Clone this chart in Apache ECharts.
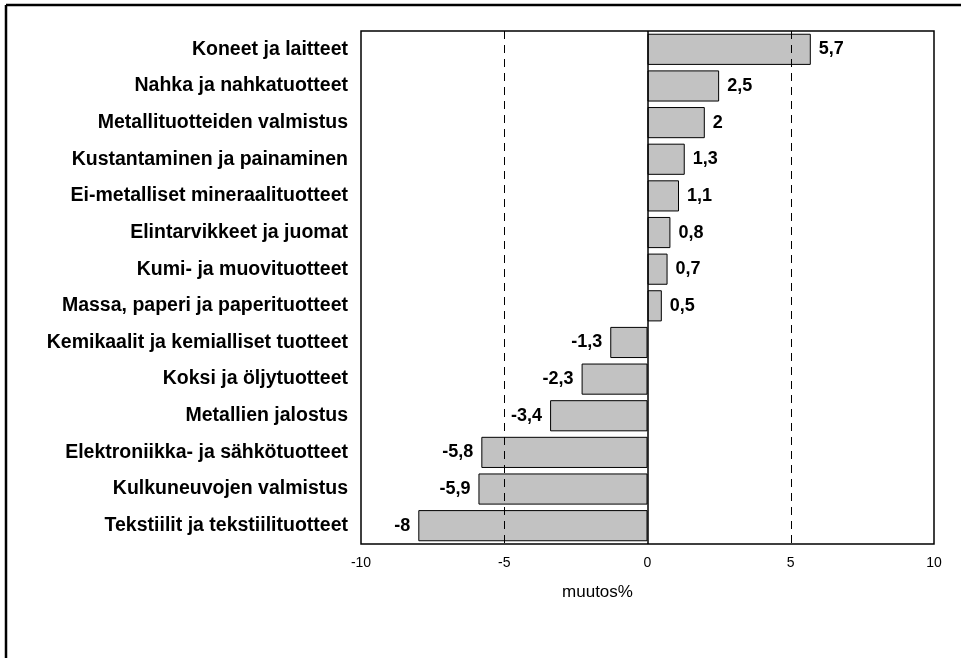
<!DOCTYPE html>
<html>
<head>
<meta charset="utf-8">
<script src="https://cdn.jsdelivr.net/npm/echarts@6/dist/echarts.min.js"></script>
<style>
html,body{margin:0;padding:0;background:#fff;}
#chart{width:961px;height:658px;}
</style>
</head>
<body>
<div id="chart"></div>
<script>
const categories = [
  'Koneet ja laitteet',
  'Nahka ja nahkatuotteet',
  'Metallituotteiden valmistus',
  'Kustantaminen ja painaminen',
  'Ei-metalliset mineraalituotteet',
  'Elintarvikkeet ja juomat',
  'Kumi- ja muovituotteet',
  'Massa, paperi ja paperituotteet',
  'Kemikaalit ja kemialliset tuotteet',
  'Koksi ja öljytuotteet',
  'Metallien jalostus',
  'Elektroniikka- ja sähkötuotteet',
  'Kulkuneuvojen valmistus',
  'Tekstiilit ja tekstiilituotteet'
];
const values = [5.7, 2.5, 2, 1.3, 1.1, 0.8, 0.7, 0.5, -1.3, -2.3, -3.4, -5.8, -5.9, -8];
const xTicks = [-10, -5, 0, 5, 10];
const axisName = 'muutos%';

const chart = echarts.init(document.getElementById('chart'));
const fmt = v => String(v).replace('.', ',');

chart.setOption({
  animation: false,
  backgroundColor: '#fff',
  textStyle: { fontFamily: 'Liberation Sans, Arial, sans-serif' },
  grid: {
    left: 361, top: 31, right: 27, bottom: 114,
    show: true, borderColor: '#000', borderWidth: 1.5, backgroundColor: 'transparent',
    containLabel: false
  },
  xAxis: {
    type: 'value',
    min: xTicks[0], max: xTicks[xTicks.length - 1], interval: 5,
    axisLine: { show: false },
    axisTick: { show: false },
    splitLine: { show: false },
    axisLabel: {
      color: '#000', fontSize: 14, margin: 12,
      formatter: v => xTicks.includes(v) ? String(v) : ''
    },
    name: axisName,
    nameLocation: 'middle',
    nameGap: 40,
    nameTextStyle: { color: '#000', fontSize: 17, padding: [0, 100, 0, 0] }
  },
  yAxis: {
    type: 'category',
    data: categories,
    inverse: true,
    axisLine: { show: false },
    axisTick: { show: false },
    splitLine: { show: false },
    axisLabel: { color: '#000', fontSize: 19.5, fontWeight: 'bold', margin: 13 }
  },
  series: [{
    type: 'bar',
    data: values.map(v => ({
      value: v,
      label: { position: v >= 0 ? 'right' : 'left' }
    })),
    barCategoryGap: '15%',
    itemStyle: { color: '#c2c2c2', borderColor: '#000', borderWidth: 1 },
    label: {
      show: true, color: '#000', fontSize: 18, fontWeight: 'bold', distance: 8,
      formatter: p => fmt(p.value)
    },
    markLine: {
      silent: true, symbol: 'none', label: { show: false },
      data: [
        { xAxis: -5, lineStyle: { type: [8, 6], color: '#000', width: 1 } },
        { xAxis: 5, lineStyle: { type: [8, 6], color: '#000', width: 1 } },
        { xAxis: 0, lineStyle: { type: 'solid', color: '#000', width: 1.5 } }
      ]
    }
  }],
  graphic: [
    { type: 'line', shape: { x1: 6, y1: 5, x2: 961, y2: 5 }, style: { stroke: '#000', lineWidth: 2.5 } },
    { type: 'line', shape: { x1: 6, y1: 5, x2: 6, y2: 658 }, style: { stroke: '#000', lineWidth: 2.5 } }
  ]
});
</script>
</body>
</html>
